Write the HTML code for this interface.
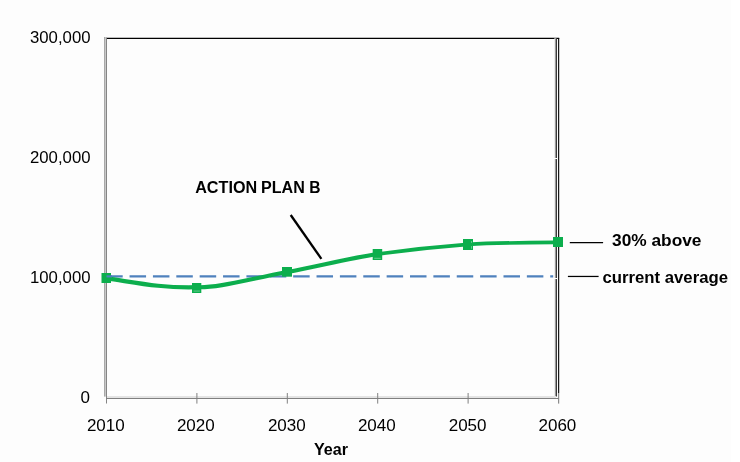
<!DOCTYPE html>
<html>
<head>
<meta charset="utf-8">
<title>Action Plan B</title>
<style>
html,body{margin:0;padding:0;background:#fff;}
body{width:740px;height:462px;overflow:hidden;}
svg{display:block;will-change:transform;opacity:0.999;}
text{font-family:"Liberation Sans",sans-serif;fill:#000;}
.ax{font-size:17px;}
.b{font-weight:bold;}
</style>
</head>
<body>
<svg width="740" height="462" viewBox="0 0 740 462">
<rect x="0" y="0" width="740" height="462" fill="#ffffff"/>
<rect x="0" y="0" width="731" height="462" fill="#fdfdfd"/>
<!-- plot border top -->
<rect x="106.5" y="37.75" width="452.7" height="1.25" fill="#000"/>
<!-- right border: gray gradient line + black line -->
<rect x="554" y="38.5" width="1" height="358" fill="#ececec"/>
<rect x="555" y="38" width="1" height="358.5" fill="#9a9a9a"/>
<rect x="556" y="38" width="1" height="358.5" fill="#3c3c3c"/>
<rect x="554" y="158" width="3.6" height="1" fill="#fdfdfd"/>
<rect x="554" y="278" width="3.6" height="1" fill="#fdfdfd"/>
<rect x="558.1" y="38" width="1.1" height="355" fill="#000"/>
<!-- left axis -->
<rect x="104" y="37" width="1" height="359.6" fill="#a8a8a8"/>
<rect x="105" y="37" width="1" height="359.6" fill="#c8c8c8"/>
<rect x="106" y="37.5" width="1" height="366" fill="#858585"/>
<!-- x axis -->
<rect x="107" y="396" width="449" height="2" fill="#e4e4e4"/>
<rect x="106" y="398" width="453" height="1" fill="#808080"/>
<g fill="#808080">
<rect x="196.4" y="393" width="1" height="10.6"/>
<rect x="286.8" y="393" width="1" height="10.6"/>
<rect x="377.2" y="393" width="1" height="10.6"/>
<rect x="467.6" y="393" width="1" height="10.6"/>
<rect x="558.1" y="393" width="1.1" height="10.6"/>
</g>
<!-- dashed average -->
<line x1="106.2" y1="276.4" x2="553.2" y2="276.4" stroke="#4f81bd" stroke-width="2.1" stroke-dasharray="16.5 6.87"/>
<!-- series -->
<path d="M106.50,278.40 C135.00,282.40 160.00,288.20 196.90,287.20 C218.00,288.00 245.00,280.10 287.30,272.00 C317.43,266.47 347.57,258.63 377.70,254.00" fill="none" stroke="#0cae4d" stroke-width="4.2"/>
<path d="M377.70,254.00 C407.83,249.90 437.97,246.70 468.10,244.40 C498.23,242.60 543.43,242.50 558.50,242.40" fill="none" stroke="#0cae4d" stroke-width="3.7"/>
<g fill="#0cae4d">
<rect x="101.5" y="273" width="9.5" height="10"/>
<rect x="192" y="283" width="9.3" height="10"/>
<rect x="282" y="267" width="10" height="9.7"/>
<rect x="372.7" y="249" width="9.5" height="11"/>
<rect x="463" y="239" width="10" height="11"/>
<rect x="553" y="237" width="10" height="10"/>
</g>
<g fill="#6fd093">
<rect x="193.5" y="290.6" width="6.4" height="0.9"/>
<rect x="374.2" y="257.8" width="6.5" height="0.9"/>
<rect x="471" y="241.1" width="0.9" height="1.8"/>
<rect x="471" y="246.1" width="0.9" height="2.6"/>
</g>
<line x1="106.5" y1="276.4" x2="112" y2="276.4" stroke="#4f81bd" stroke-width="2.1"/>
<!-- leader lines -->
<line x1="290.7" y1="215" x2="321.4" y2="258.9" stroke="#000" stroke-width="2.3"/>
<line x1="569.8" y1="242.5" x2="603.1" y2="242.5" stroke="#000" stroke-width="1.25"/>
<line x1="567.9" y1="276.45" x2="598.6" y2="276.45" stroke="#000" stroke-width="1.25"/>
<!-- y labels -->
<g class="ax" text-anchor="end">
<text x="90.5" y="43.3" textLength="60.5" lengthAdjust="spacingAndGlyphs">300,000</text>
<text x="90.5" y="163" textLength="60.5" lengthAdjust="spacingAndGlyphs">200,000</text>
<text x="90.5" y="283" textLength="60.5" lengthAdjust="spacingAndGlyphs">100,000</text>
<text x="90" y="403">0</text>
</g>
<!-- x labels -->
<g class="ax" text-anchor="middle">
<text x="105.8" y="431">2010</text>
<text x="195.8" y="431">2020</text>
<text x="286.8" y="431">2030</text>
<text x="376.8" y="431">2040</text>
<text x="467.6" y="431">2050</text>
<text x="557.4" y="431">2060</text>
</g>
<text class="b" x="314" y="454.6" font-size="16" textLength="34" lengthAdjust="spacingAndGlyphs">Year</text>
<text class="b" y="193" font-size="15.6"><tspan x="195.2" textLength="62" lengthAdjust="spacingAndGlyphs">ACTION</tspan> <tspan x="261" textLength="43.8" lengthAdjust="spacingAndGlyphs">PLAN</tspan> <tspan x="309.3">B</tspan></text>
<text class="b" x="612" y="245.7" font-size="17" textLength="89.5" lengthAdjust="spacingAndGlyphs">30% above</text>
<text class="b" x="602.5" y="283.4" font-size="17" textLength="125.5" lengthAdjust="spacingAndGlyphs">current average</text>
</svg>
</body>
</html>
